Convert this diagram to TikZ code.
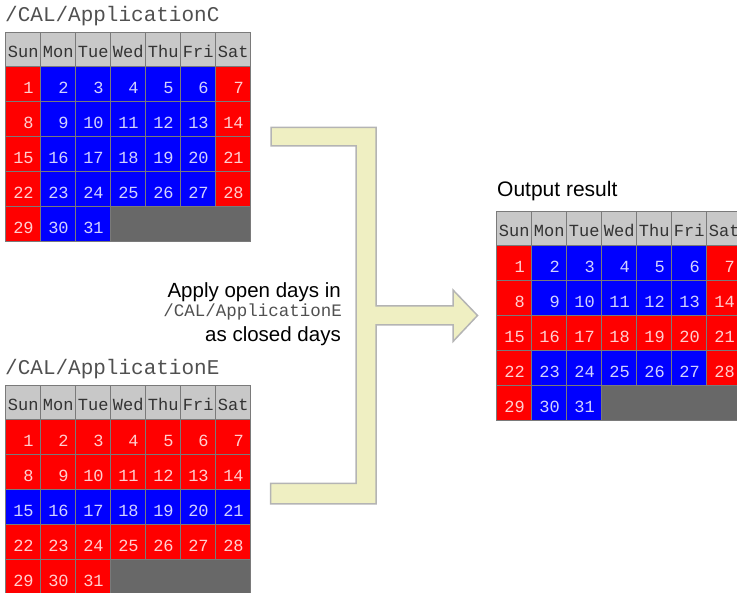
\documentclass[tikz,border=0pt]{standalone}
\usepackage{fontspec}
\setmainfont{Liberation Sans}
\setmonofont{Liberation Mono}

\definecolor{closedred}{HTML}{FF0000}
\definecolor{openblue}{HTML}{0000FF}
\definecolor{closedtext}{HTML}{FFCFCF}
\definecolor{opentext}{HTML}{D2D2FF}
\definecolor{headgray}{HTML}{C8C8C8}
\definecolor{blankgray}{HTML}{686868}
\definecolor{gridgray}{HTML}{7A7A7A}
\definecolor{arrowfill}{HTML}{EFEFC2}
\definecolor{arrowline}{HTML}{B4B4B4}
\definecolor{pathgray}{HTML}{505050}

\tikzset{
	cell/.style={draw=gridgray, line width=0.8pt, anchor=north west, minimum width=35pt, minimum height=35pt, inner ysep=0pt, font=\ttfamily\fontsize{17}{17}\selectfont},
	headcell/.style={cell, fill=headgray, minimum height=34pt, inner xsep=0pt, text=black!80, text height=16pt, text depth=0pt},
	daycell/.style={cell, inner xsep=7pt, text width=21pt, align=right, text height=19pt, text depth=0pt},
	closedday/.style={daycell, fill=closedred, text=closedtext},
	openday/.style={daycell, fill=openblue, text=opentext},
	blankcell/.style={cell, fill=blankgray, minimum width=140pt},
	pathtitle/.style={anchor=base west, inner sep=0pt, text=pathgray, font=\ttfamily\fontsize{21}{21}\selectfont},
	notetext/.style={anchor=base east, inner sep=0pt, font=\fontsize{20.5}{20.5}\selectfont},
}

% name, left, top, test for a closed day
\newcommand{\calgrid}[4]{%
	\begin{scope}[shift={(#2,#3)}]
		\coordinate (#1) at (0,0);
		\foreach \dayname [count=\c from 0] in {Sun,Mon,Tue,Wed,Thu,Fri,Sat}
			\node[headcell] (#1-\dayname) at (35*\c,0) {\dayname};
		\foreach \d in {1,...,31} {
			\pgfmathtruncatemacro{\col}{mod(\d-1,7)}
			\pgfmathtruncatemacro{\row}{div(\d-1,7)}
			\pgfmathtruncatemacro{\shut}{#4}
			\ifnum\shut=1 \def\daystyle{closedday}\else\def\daystyle{openday}\fi
			\node[\daystyle] (#1-\d) at (35*\col,34+35*\row) {\d};
		}
		\node[blankcell] (#1-blank) at (105,174) {};
	\end{scope}
}

\begin{document}
\begin{tikzpicture}[x=1pt, y=-1pt]
	\useasboundingbox (0,0) rectangle (737,593);
	\clip (0,0) rectangle (737,593);

	% the two inputs
	\node[pathtitle] (titleC) at (5,22) {/CAL/ApplicationC};
	\calgrid{calC}{5.3}{32}{\col==0 || \col==6}
	\node[pathtitle] (titleE) at (5,375) {/CAL/ApplicationE};
	\calgrid{calE}{5.3}{385}{\row!=2}

	% the merge arrow
	\draw[fill=arrowfill, draw=arrowline, line width=1.5pt]
		(271,127.5) -- (376,127.5) -- (376,306) -- (453,306) -- (453,290)
		-- (477.5,315.5) -- (453,341.5) -- (453,325) -- (376,325) -- (376,504)
		-- (270.5,504) -- (270.5,483.5) -- (356,483.5) -- (356,146) -- (271,146) -- cycle;
	\node[notetext] (note1) at (341,298) {Apply open days in};
	\node[notetext, text=pathgray, font=\ttfamily\fontsize{17.5}{17.5}\selectfont] (note2) at (342,317) {/CAL/ApplicationE};
	\node[notetext] (note3) at (341,342) {as closed days};

	% the result
	\node[anchor=base west, inner sep=0pt, font=\fontsize{21}{21}\selectfont] (titleOut) at (497,197) {Output result};
	\calgrid{calOut}{496.3}{211}{\col==0 || \col==6 || \row==2}
\end{tikzpicture}
\end{document}
